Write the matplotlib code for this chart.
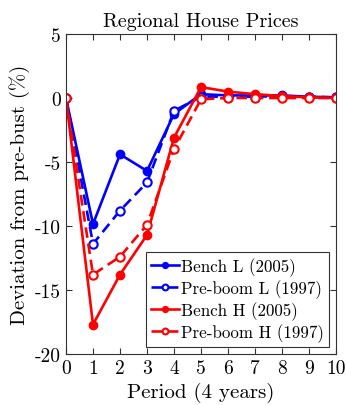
import matplotlib
matplotlib.use("Agg")
import matplotlib.pyplot as plt

plt.rcParams['font.family'] = 'serif'
plt.rcParams['font.serif'] = ['cmr10']
plt.rcParams['mathtext.fontset'] = 'cm'
plt.rcParams['axes.unicode_minus'] = False
plt.rcParams['axes.formatter.use_mathtext'] = False

periods = [0, 1, 2, 3, 4, 5, 6, 7, 8, 9, 10]
bench_L = [0, -9.85, -4.4, -5.7, -1.25, 0.3, 0.2, 0.2, 0.2, 0.1, 0.05]
preboom_L = [0, -11.4, -8.8, -6.6, -1.0, 0.1, 0.1, 0.1, 0.15, 0.1, 0.05]
bench_H = [0, -17.7, -13.8, -10.7, -3.1, 0.85, 0.5, 0.3, 0.15, 0.05, 0.0]
preboom_H = [0, -13.8, -12.4, -9.9, -4.0, -0.1, 0.0, 0.0, 0.0, 0.0, 0.0]

fig = plt.figure(figsize=(3.46, 4.06), dpi=100)
ax = fig.add_axes([66/346, 1-355/406, 270/346, 320/406])

dash = (0, (4, 2.2))
ax.plot(periods, bench_L, color='blue', lw=1.9, marker='o', ms=6,
        mfc='blue', mec='blue', label='Bench L (2005)')
ax.plot(periods, preboom_L, color='blue', lw=1.9, ls=dash, marker='o', ms=6,
        mfc='white', mec='blue', mew=1.5, label='Pre-boom L (1997)')
ax.plot(periods, bench_H, color='red', lw=1.9, marker='o', ms=6,
        mfc='red', mec='red', label='Bench H (2005)')
ax.plot(periods, preboom_H, color='red', lw=1.9, ls=dash, marker='o', ms=6,
        mfc='white', mec='red', mew=1.5, label='Pre-boom H (1997)')

ax.set_xlim(0, 10)
ax.set_ylim(-20, 5)
ax.set_xticks(range(0, 11))
ax.set_yticks([-20, -15, -10, -5, 0, 5])
ax.tick_params(direction='in', top=True, right=True, labelsize=14, length=4,
               color='#333333')
for s in ax.spines.values():
    s.set_linewidth(0.8)
    s.set_color('#333333')

ax.set_title('Regional House Prices', fontsize=14.5)
ax.set_xlabel('Period (4 years)', fontsize=15)
ax.set_ylabel('Deviation from pre-bust (%)', fontsize=15)

leg = ax.legend(loc='lower right', fontsize=12.2, frameon=True, fancybox=False,
                edgecolor='#333333', framealpha=1, handlelength=1.65,
                handletextpad=0.15, borderpad=0.3, labelspacing=0.2,
                borderaxespad=0.4, markerscale=0.7)
leg.get_frame().set_linewidth(0.8)

fig.savefig('out.png', dpi=100)
